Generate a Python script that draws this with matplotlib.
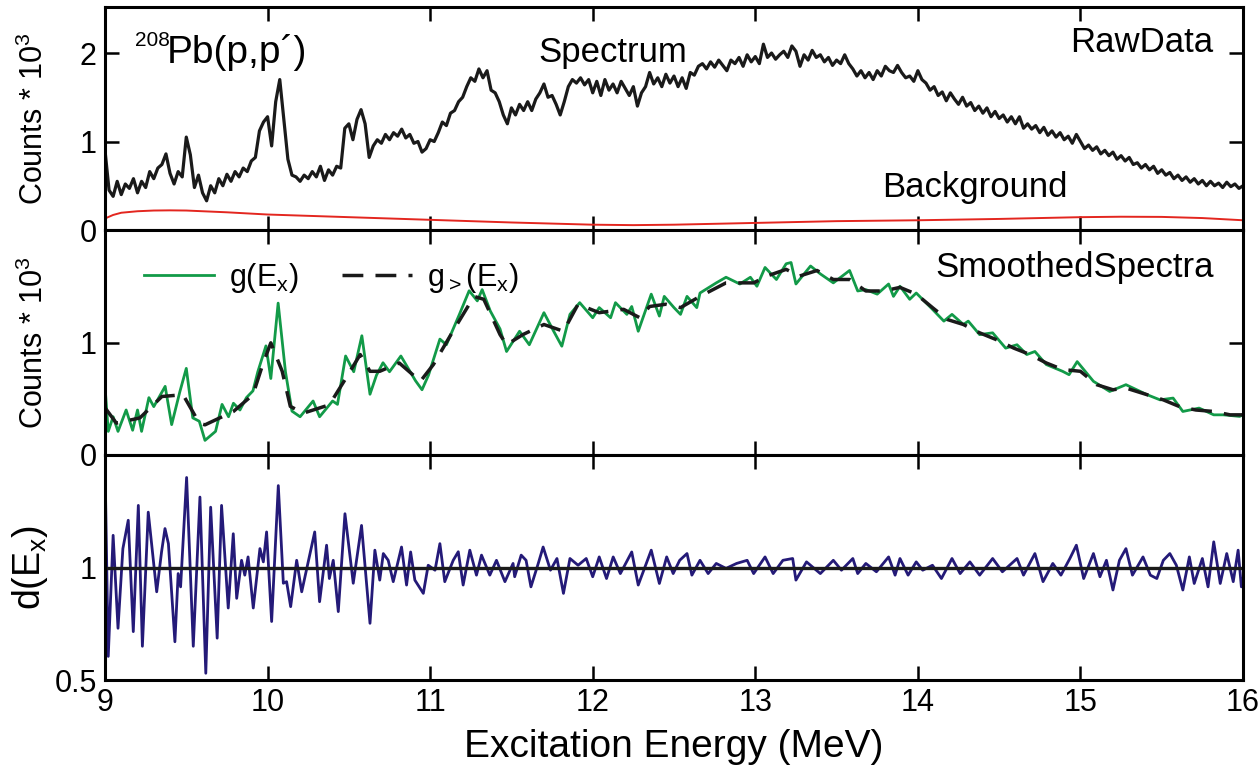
import numpy as np
import matplotlib
matplotlib.use("Agg")
import matplotlib.pyplot as plt

plt.rcParams["font.family"] = ["Liberation Sans", "DejaVu Sans"]
plt.rcParams["mathtext.default"] = "regular"

# ---- raw spectrum (counts * 10^3), read every 0.025 MeV from 9 to 16 ----
raw_counts = [
    0.90, 0.45, 0.38, 0.55, 0.40, 0.52, 0.47, 0.58, 0.42, 0.55, 0.48, 0.66, 0.58, 0.70, 0.74, 0.86, 0.64, 0.52, 0.66, 0.60,
    1.05, 0.85, 0.48, 0.62, 0.42, 0.33, 0.50, 0.42, 0.58, 0.50, 0.63, 0.55, 0.66, 0.60, 0.70, 0.66, 0.78, 0.82, 1.12, 1.22,
    1.28, 0.95, 1.45, 1.70, 1.25, 0.80, 0.62, 0.60, 0.55, 0.62, 0.58, 0.66, 0.60, 0.72, 0.56, 0.68, 0.62, 0.72, 0.70, 1.15,
    1.20, 1.02, 1.25, 1.36, 1.20, 0.82, 0.95, 1.02, 0.98, 1.08, 1.02, 1.10, 1.06, 1.14, 1.04, 1.08, 0.98, 1.00, 0.88, 0.92,
    1.02, 1.00, 1.10, 1.22, 1.18, 1.32, 1.35, 1.45, 1.50, 1.62, 1.72, 1.68, 1.82, 1.72, 1.80, 1.58, 1.55, 1.45, 1.30, 1.20,
    1.38, 1.30, 1.42, 1.35, 1.45, 1.35, 1.48, 1.55, 1.65, 1.50, 1.52, 1.42, 1.30, 1.45, 1.62, 1.70, 1.66, 1.72, 1.64, 1.70,
    1.55, 1.68, 1.52, 1.70, 1.58, 1.65, 1.55, 1.68, 1.60, 1.52, 1.62, 1.40, 1.55, 1.62, 1.78, 1.65, 1.72, 1.62, 1.76, 1.66,
    1.74, 1.62, 1.72, 1.60, 1.78, 1.75, 1.85, 1.88, 1.82, 1.90, 1.84, 1.92, 1.86, 1.80, 1.92, 1.88, 1.95, 1.85, 1.98, 1.90,
    1.96, 1.88, 2.10, 1.95, 2.00, 1.93, 1.98, 2.02, 1.95, 2.08, 2.02, 1.85, 1.98, 1.92, 2.03, 1.95, 1.98, 1.90, 1.95, 1.86,
    1.92, 1.88, 1.98, 1.88, 1.82, 1.74, 1.80, 1.72, 1.78, 1.70, 1.80, 1.74, 1.85, 1.80, 1.78, 1.86, 1.78, 1.72, 1.74, 1.68,
    1.80, 1.70, 1.66, 1.58, 1.62, 1.52, 1.56, 1.46, 1.55, 1.48, 1.42, 1.50, 1.40, 1.44, 1.35, 1.40, 1.32, 1.38, 1.28, 1.34,
    1.26, 1.30, 1.22, 1.28, 1.20, 1.28, 1.15, 1.20, 1.14, 1.18, 1.10, 1.16, 1.07, 1.12, 1.05, 1.10, 1.02, 1.06, 0.98, 1.08,
    1.00, 0.92, 0.96, 0.90, 0.94, 0.86, 0.90, 0.84, 0.88, 0.80, 0.84, 0.78, 0.82, 0.74, 0.76, 0.70, 0.74, 0.68, 0.72, 0.64,
    0.68, 0.62, 0.65, 0.58, 0.62, 0.56, 0.60, 0.54, 0.58, 0.52, 0.56, 0.50, 0.55, 0.50, 0.53, 0.48, 0.54, 0.49, 0.52, 0.47,
    0.50,
]
raw_energy = np.linspace(9, 16, len(raw_counts))

bg_energy = [9.0, 9.05, 9.1, 9.2, 9.3, 9.4, 9.5, 9.75, 10.0, 10.5, 11.0, 11.5, 12.0, 12.25, 12.5,
             13.0, 13.5, 14.0, 14.5, 15.0, 15.25, 15.5, 15.75, 16.0]
bg_counts = [0.13, 0.17, 0.195, 0.212, 0.22, 0.222, 0.22, 0.20, 0.175, 0.145, 0.115, 0.085, 0.06, 0.055, 0.06,
             0.08, 0.10, 0.11, 0.125, 0.145, 0.15, 0.148, 0.135, 0.11]

# ---- smoothed spectra ----
g_energy = [9.0, 9.02, 9.05, 9.08, 9.13, 9.17, 9.20, 9.225, 9.27, 9.30, 9.37, 9.41, 9.46, 9.50, 9.54, 9.58,
            9.615, 9.68, 9.72, 9.76, 9.79, 9.83, 9.87, 9.91, 9.94, 9.99, 10.02, 10.065, 10.11, 10.15, 10.20,
            10.28, 10.32, 10.40, 10.43, 10.48, 10.53, 10.58, 10.63, 10.67, 10.71, 10.75, 10.82, 10.91, 10.95,
            10.99, 11.06, 11.10, 11.18, 11.24, 11.29, 11.32, 11.37, 11.43, 11.47, 11.55, 11.61, 11.70, 11.76,
            11.81, 11.86, 11.92, 12.00, 12.04, 12.11, 12.14, 12.21, 12.24, 12.28, 12.36, 12.41, 12.44, 12.50,
            12.54, 12.58, 12.64, 12.66, 12.76, 12.82, 12.905, 12.97, 13.01, 13.06, 13.13, 13.19, 13.22, 13.25,
            13.34, 13.40, 13.48, 13.58, 13.63, 13.68, 13.75, 13.82, 13.85, 13.89, 13.95, 13.99, 14.09, 14.16,
            14.21, 14.28, 14.31, 14.38, 14.46, 14.54, 14.61, 14.67, 14.72, 14.79, 14.89, 14.93, 14.98, 15.08,
            15.18, 15.28, 15.41, 15.49, 15.57, 15.63, 15.73, 15.82, 15.88, 15.98, 16.0]
g_counts = [0.61, 0.21, 0.34, 0.21, 0.40, 0.22, 0.40, 0.21, 0.51, 0.43, 0.61, 0.27, 0.56, 0.77, 0.33, 0.30,
            0.13, 0.21, 0.45, 0.34, 0.46, 0.40, 0.51, 0.57, 0.74, 0.97, 0.68, 1.35, 0.74, 0.39, 0.34,
            0.48, 0.34, 0.48, 0.45, 0.88, 0.74, 1.06, 0.54, 0.71, 0.82, 0.74, 0.88, 0.66, 0.58,
            0.71, 1.03, 0.98, 1.25, 1.46, 1.37, 1.47, 1.28, 1.12, 0.92, 1.10, 0.98, 1.265, 1.10,
            0.967, 1.25, 1.354, 1.22, 1.31, 1.22, 1.354, 1.25, 1.32, 1.10, 1.43, 1.235, 1.41, 1.31,
            1.25, 1.41, 1.31, 1.44, 1.53, 1.58, 1.52, 1.58, 1.50, 1.667, 1.56, 1.70, 1.711, 1.52,
            1.68, 1.61, 1.53, 1.64, 1.458, 1.47, 1.43, 1.52, 1.41, 1.50, 1.384, 1.44, 1.295, 1.19,
            1.25, 1.16, 1.19, 1.07, 1.086, 0.95, 0.98, 0.893, 0.92, 0.804, 0.744, 0.714, 0.83, 0.655,
            0.565, 0.625, 0.536, 0.49, 0.506, 0.387, 0.417, 0.357, 0.357, 0.343, 0.36]

gs_energy = [9.0, 9.07, 9.215, 9.35, 9.48, 9.58, 9.615, 9.79, 9.91, 9.97, 10.02, 10.09, 10.14, 10.22, 10.38,
             10.47, 10.57, 10.63, 10.69, 10.81, 10.94, 11.02, 11.14, 11.27, 11.33, 11.43, 11.47, 11.57, 11.70,
             11.82, 11.91, 12.04, 12.19, 12.29, 12.35, 12.45, 12.54, 12.66, 12.82, 12.99, 13.07, 13.19, 13.27,
             13.38, 13.48, 13.58, 13.68, 13.79, 13.89, 13.99, 14.09, 14.18, 14.28, 14.38, 14.48, 14.59, 14.69,
             14.79, 14.89, 15.0, 15.10, 15.20, 15.28, 15.41, 15.51, 15.61, 15.71, 15.82, 15.92, 16.0]
gs_counts = [0.42, 0.283, 0.33, 0.52, 0.536, 0.283, 0.268, 0.387, 0.536, 0.804, 0.997, 0.744, 0.432, 0.372, 0.446,
             0.655, 0.893, 0.744, 0.744, 0.818, 0.655, 0.804, 1.10, 1.41, 1.384, 1.07, 0.98, 1.07, 1.16,
             1.10, 1.34, 1.265, 1.295, 1.22, 1.32, 1.34, 1.31, 1.41, 1.53, 1.53, 1.59, 1.65, 1.59,
             1.64, 1.56, 1.56, 1.458, 1.458, 1.49, 1.43, 1.31, 1.205, 1.16, 1.086, 1.027, 0.95, 0.893,
             0.818, 0.76, 0.744, 0.625, 0.58, 0.595, 0.536, 0.49, 0.43, 0.40, 0.387, 0.357, 0.357]

# ---- ratio d(Ex) ----
d_energy = [9.0, 9.02, 9.05, 9.08, 9.11, 9.143, 9.174, 9.205, 9.23, 9.266, 9.318, 9.348, 9.369, 9.39, 9.43,
            9.45, 9.465, 9.502, 9.543, 9.584, 9.62, 9.65, 9.69, 9.717, 9.758, 9.789, 9.81, 9.84, 9.86, 9.88,
            9.912, 9.953, 9.974, 9.994, 10.025, 10.066, 10.097, 10.117, 10.142, 10.179, 10.21, 10.25, 10.29,
            10.32, 10.363, 10.38, 10.404, 10.435, 10.476, 10.527, 10.578, 10.63, 10.66, 10.69, 10.712, 10.742,
            10.773, 10.824, 10.855, 10.88, 10.906, 10.958, 10.988, 11.03, 11.06, 11.09, 11.142, 11.173, 11.203,
            11.244, 11.285, 11.316, 11.367, 11.408, 11.46, 11.51, 11.52, 11.56, 11.59, 11.62, 11.665, 11.695,
            11.74, 11.78, 11.82, 11.86, 11.91, 11.96, 12.00, 12.04, 12.085, 12.126, 12.17, 12.24, 12.28, 12.36,
            12.41, 12.455, 12.495, 12.535, 12.58, 12.61, 12.66, 12.71, 12.76, 12.82, 12.885, 12.95, 12.99,
            13.06, 13.11, 13.17, 13.23, 13.25, 13.315, 13.40, 13.48, 13.53, 13.60, 13.63, 13.68, 13.745,
            13.82, 13.86, 13.89, 13.94, 13.99, 14.03, 14.09, 14.145, 14.21, 14.26, 14.32, 14.38, 14.46, 14.52,
            14.61, 14.65, 14.72, 14.77, 14.83, 14.88, 14.935, 14.975, 15.02, 15.08, 15.12, 15.16, 15.20, 15.24,
            15.28, 15.32, 15.385, 15.43, 15.47, 15.51, 15.55, 15.59, 15.63, 15.67, 15.70, 15.75, 15.785, 15.82,
            15.86, 15.90, 15.94, 15.97, 15.99, 16.0]
d_ratio = [1.46, 0.605, 1.143, 0.73, 1.084, 1.21, 0.715, 1.276, 0.65, 1.246, 0.892, 1.07, 1.173, 1.106, 0.67,
           0.973, 0.914, 1.40, 0.65, 1.313, 0.53, 1.268, 0.686, 1.276, 0.82, 1.15, 0.863, 1.032, 0.966, 1.047,
           0.82, 1.084, 1.025, 1.158, 0.76, 1.364, 0.93, 0.937, 0.826, 1.032, 0.892, 1.025, 1.158,
           0.848, 1.099, 0.951, 1.032, 0.804, 1.239, 0.93, 1.187, 0.752, 1.077, 0.944, 1.062, 1.032,
           0.937, 1.091, 0.922, 1.069, 0.944, 0.885, 1.01, 0.988, 1.106, 0.937, 1.032, 1.07, 0.922,
           1.077, 0.966, 1.055, 0.966, 1.032, 0.937, 1.018, 0.959, 1.055, 1.032, 0.914, 1.018, 1.091,
           0.988, 1.040, 0.885, 1.040, 1.010, 1.040, 0.959, 1.047, 0.951, 1.047, 0.973, 1.069, 0.922, 1.077,
           0.929, 1.047, 0.973, 1.032, 1.062, 0.966, 1.032, 0.973, 1.018, 0.996, 1.018, 1.032, 0.973,
           1.047, 0.973, 1.032, 1.040, 0.944, 1.025, 0.973, 1.032, 0.988, 1.040, 0.973, 1.018, 0.981,
           1.047, 0.966, 1.040, 0.966, 1.025, 0.988, 1.010, 0.951, 1.040, 0.973, 1.025, 0.966, 1.040, 0.981,
           1.040, 0.966, 1.062, 0.937, 1.018, 0.966, 1.040, 1.099, 0.951, 1.062, 0.959, 1.032, 0.900, 1.032,
           1.084, 0.966, 1.047, 0.966, 0.951, 1.032, 1.062, 1.010, 0.900, 1.047, 0.929, 1.040, 0.914, 1.114,
           0.929, 1.062, 0.937, 1.077, 0.914, 0.95]

x_ticks = [9, 10, 11, 12, 13, 14, 15, 16]

fig = plt.figure(figsize=(12.58, 7.66), dpi=100)
L, W = 105 / 1258, (1243 - 105) / 1258
ax1 = fig.add_axes([L, 1 - 230 / 766, W, 223 / 766])
ax2 = fig.add_axes([L, 1 - 455 / 766, W, 225 / 766])
ax3 = fig.add_axes([L, 1 - 680 / 766, W, 225 / 766])

ax1.plot(raw_energy, raw_counts, color="#1a1a1a", lw=2.3, solid_joinstyle="round")
ax1.plot(bg_energy, bg_counts, color="#e3261f", lw=1.4)
ax1.set_ylim(0, 2.52)
ax1.set_yticks([0, 1, 2])

ax2.plot(g_energy, g_counts, color="#129a48", lw=2.0, solid_joinstyle="round", label="g(E$_x$)")
ax2.plot(gs_energy, gs_counts, color="#1a1a1a", lw=2.5, dashes=(6, 3.5), label="g$_>$(E$_x$)")
ax2.set_ylim(0, 2.0)
ax2.set_yticks([0, 1])

ax3.plot(d_energy, d_ratio, color="#241a78", lw=2.0, solid_joinstyle="round")
ax3.axhline(1.0, color="#1a1a1a", lw=2.4)
ax3.set_ylim(0.5, 1.5)
ax3.set_yticks([0.5, 1])
ax3.set_yticklabels(["0.5", "1"])

for ax in (ax1, ax2, ax3):
    ax.set_xlim(9, 16)
    ax.set_xticks(x_ticks)
    ax.tick_params(direction="in", length=10, width=1.8, top=True, right=True,
                   labelsize=22, pad=6)
    for s in ax.spines.values():
        s.set_linewidth(2.2)
for ax in (ax1, ax2):
    ax.tick_params(labelbottom=False)

ax3.set_xlabel("Excitation Energy (MeV)", fontsize=28, labelpad=8)
ax1.set_ylabel("Counts * 10$^3$", fontsize=22)
ax2.set_ylabel("Counts * 10$^3$", fontsize=22)
ax3.set_ylabel("d(E$_x$)", fontsize=27)
for ax in (ax1, ax2, ax3):
    ax.yaxis.set_label_coords(-0.048, 0.5)

ax1.text(0.026, 0.85, "208", transform=ax1.transAxes, fontsize=15, va="center")
ax1.text(0.054, 0.75, "Pb(p,p\u00b4)", transform=ax1.transAxes, fontsize=28, va="baseline")
ax1.text(0.381, 0.755, "Spectrum", transform=ax1.transAxes, fontsize=25, va="baseline")
ax1.text(0.974, 0.80, "RawData", transform=ax1.transAxes, fontsize=25, va="baseline", ha="right")
ax1.text(0.846, 0.148, "Background", transform=ax1.transAxes, fontsize=25, va="baseline", ha="right")
ax2.text(0.974, 0.79, "SmoothedSpectra", transform=ax2.transAxes, fontsize=25, va="baseline", ha="right")

ax2.legend(loc="upper left", bbox_to_anchor=(0.01, 0.985), ncol=2, frameon=False,
           fontsize=22, handlelength=2.3, columnspacing=1.4, handletextpad=0.5)

fig.savefig("out.png", dpi=100)
